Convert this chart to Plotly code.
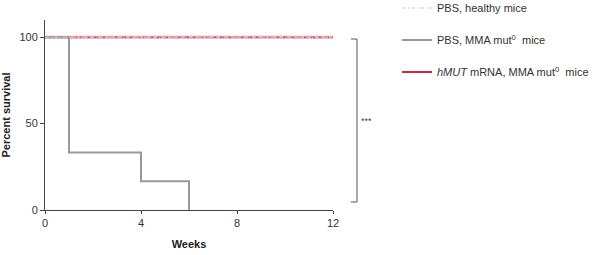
import plotly.graph_objects as go

weeks_healthy = [0, 12]
surv_healthy = [100, 100]
weeks_pbs = [0, 1, 4, 6]
surv_pbs = [100, 33.3, 16.7, 0]
weeks_mrna = [0, 12]
surv_mrna = [100, 100]

names = ["PBS, healthy mice",
         "PBS, MMA mut<sup>0</sup>  mice",
         "<i>hMUT</i> mRNA, MMA mut<sup>0</sup>  mice"]
x_ticks = [0, 4, 8, 12]
y_ticks = [0, 50, 100]

W, H = 598, 255
L, R, T, B = 45, 265, 20, 45
pw, ph = W - L - R, H - T - B

def px(x):
    return (x - L) / pw

def py(y):
    return (H - B - y) / ph

fig = go.Figure()
# mRNA: pink band with red dashes
fig.add_trace(go.Scatter(x=weeks_mrna, y=surv_mrna, mode="lines", line=dict(color="#e9a5b0", width=3),
                         showlegend=False, hoverinfo="skip"))
fig.add_trace(go.Scatter(x=weeks_mrna, y=surv_mrna, mode="lines", line=dict(color="#d9263f", width=1, dash="4px,3px"),
                         showlegend=False, hoverinfo="skip"))
# PBS MMA step
fig.add_trace(go.Scatter(x=weeks_pbs + [weeks_pbs[-1]], y=surv_pbs[:-1] + [surv_pbs[-2], surv_pbs[-1]],
                         mode="lines", line=dict(color="#999999", width=2, shape="hv"),
                         name=names[1], legend="legend2"))
# healthy
fig.add_trace(go.Scatter(x=weeks_healthy, y=surv_healthy, mode="lines",
                         line=dict(color="#cccccc", width=1.2, dash="4px,2px,1px,2px"),
                         name=names[0], legend="legend"))
# legend entry for mRNA
fig.add_trace(go.Scatter(x=[None], y=[None], mode="lines", line=dict(color="#d9263f", width=2),
                         name=names[2], legend="legend3"))

font = dict(family="Liberation Sans, Arial, sans-serif", size=11, color="#333333")
leg_common = dict(xanchor="left", yanchor="middle", xref="container", yref="container",
                  bgcolor="rgba(0,0,0,0)", font=font, itemwidth=30, borderwidth=0)
lx = 397 / W
fig.update_layout(
    width=W, height=H,
    margin=dict(l=L, r=R, t=T, b=B, autoexpand=False),
    plot_bgcolor="white", paper_bgcolor="white",
    font=font,
    legend=dict(x=lx, y=1 - 8 / H, **leg_common),
    legend2=dict(x=lx, y=1 - 40 / H, **leg_common),
    legend3=dict(x=lx, y=1 - 72 / H, **leg_common),
    xaxis=dict(range=[0, 12], tickvals=x_ticks, ticks="outside", ticklen=3, tickcolor="#444",
               showline=True, linecolor="#444", linewidth=1, showgrid=False, zeroline=False,
               automargin=False,
               title=dict(text="<b>Weeks</b>", font=dict(size=11, color="#222"), standoff=12),
               tickfont=dict(size=11, color="#333")),
    yaxis=dict(range=[0, 110], tickvals=y_ticks, ticks="outside", ticklen=4, tickcolor="#444",
               showline=True, linecolor="#444", linewidth=1, showgrid=False, zeroline=False,
               automargin=False,
               title=dict(text="<b>Percent survival</b>", font=dict(size=11, color="#222"), standoff=8),
               tickfont=dict(size=11, color="#333")),
)
# significance bracket
bx, btick = 357, 351
y1, y2 = 39, 202
for sh in [dict(x0=px(bx), x1=px(bx), y0=py(y1), y1=py(y2)),
           dict(x0=px(btick), x1=px(bx), y0=py(y1), y1=py(y1)),
           dict(x0=px(btick), x1=px(bx), y0=py(y2), y1=py(y2))]:
    fig.add_shape(type="line", xref="paper", yref="paper", line=dict(color="#555", width=1), **sh)
fig.add_annotation(x=px(374), y=py(121), xref="paper", yref="paper", text="***", showarrow=False,
                   font=dict(size=9, color="#444"))

fig.write_html("out.html")
